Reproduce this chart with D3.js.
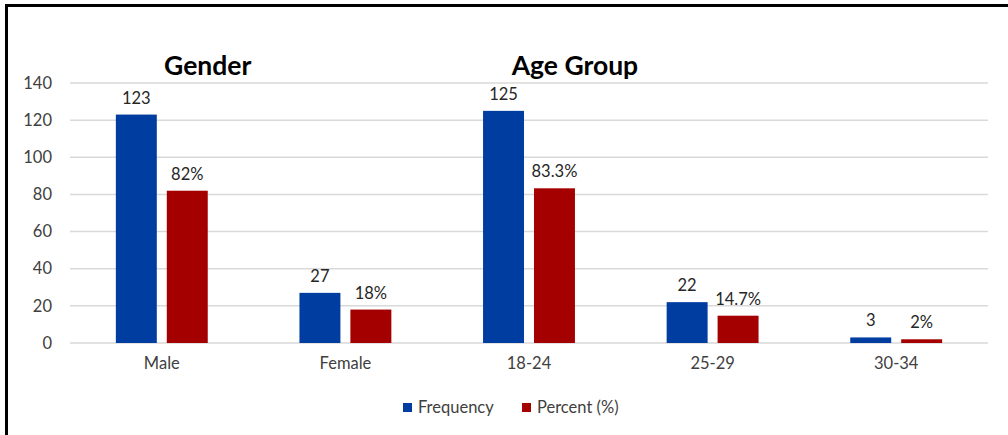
<!DOCTYPE html>
<html>
<head>
<meta charset="utf-8">
<script src="https://cdn.jsdelivr.net/npm/d3@7"></script>
<style>
  body { margin: 0; background: #fff; }
  svg text { font-family: Lato, "Liberation Sans", sans-serif; }
</style>
</head>
<body>
<div id="chart"></div>
<script>
const categories = ["Male", "Female", "18-24", "25-29", "30-34"];
const frequency = [123, 27, 125, 22, 3];
const percent = [82, 18, 83.3, 14.7, 2];
const seriesNames = ["Frequency", "Percent (%)"];
const yTicks = [0, 20, 40, 60, 80, 100, 120, 140];
const groupTitles = [
  { title: "Gender", from: "Male" },
  { title: "Age Group", from: "18-24" }
];

const width = 1008, height = 435;
const colors = ["#003da0", "#a50000"];
const fontSize = 16.5;

const svg = d3.select("#chart")
  .append("svg")
  .attr("width", width)
  .attr("height", height);

// frame
svg.append("rect")
  .attr("x", 6.5).attr("y", 5.5)
  .attr("width", width + 10).attr("height", height + 10)
  .attr("fill", "none")
  .attr("stroke", "#000")
  .attr("stroke-width", 3);

const x = d3.scaleBand()
  .domain(categories)
  .range([70, 988]);

const x1 = d3.scaleBand()
  .domain(seriesNames)
  .range([0, x.bandwidth()])
  .paddingInner(0.196)
  .paddingOuter(0.9);

const y = d3.scaleLinear()
  .domain([0, 140])
  .range([343, 83]);

// gridlines
svg.append("g")
  .selectAll("line")
  .data(yTicks)
  .enter()
  .append("line")
  .attr("x1", 70)
  .attr("x2", 988)
  .attr("y1", d => y(d))
  .attr("y2", d => y(d))
  .attr("stroke", "#d9d9d9")
  .attr("stroke-width", 1.5);

// y axis labels
const yAxis = d3.axisLeft(y).tickValues(yTicks).tickSize(0).tickPadding(0);
svg.append("g")
  .attr("transform", "translate(52,0)")
  .call(yAxis)
  .call(g => g.select(".domain").remove())
  .selectAll("text")
  .attr("font-size", fontSize)
  .attr("fill", "#404040")
  .style("font-family", "Lato, 'Liberation Sans', sans-serif");

// x axis labels
const xAxis = d3.axisBottom(x).tickSize(0).tickPadding(0);
svg.append("g")
  .attr("transform", "translate(0,357)")
  .call(xAxis)
  .call(g => g.select(".domain").remove())
  .selectAll("text")
  .attr("font-size", fontSize)
  .attr("fill", "#404040")
  .style("font-family", "Lato, 'Liberation Sans', sans-serif");

const rows = categories.map((c, i) => ({
  cat: c,
  vals: [
    { s: seriesNames[0], v: frequency[i], label: String(frequency[i]) },
    { s: seriesNames[1], v: percent[i], label: percent[i] + "%" }
  ]
}));

const groups = svg.append("g")
  .selectAll("g")
  .data(rows)
  .enter()
  .append("g")
  .attr("transform", d => `translate(${x(d.cat)},0)`);

groups.selectAll("rect")
  .data(d => d.vals)
  .enter()
  .append("rect")
  .attr("x", d => x1(d.s))
  .attr("width", x1.bandwidth())
  .attr("y", d => y(d.v))
  .attr("height", d => y(0) - y(d.v))
  .attr("fill", (d, i) => colors[i]);

groups.selectAll("text")
  .data(d => d.vals)
  .enter()
  .append("text")
  .attr("x", d => x1(d.s) + x1.bandwidth() / 2)
  .attr("y", d => y(d.v) - 11)
  .attr("text-anchor", "middle")
  .attr("font-size", fontSize)
  .attr("fill", "#262626")
  .text(d => d.label);

// group titles
svg.append("g")
  .selectAll("text")
  .data(groupTitles)
  .enter()
  .append("text")
  .attr("x", d => x(d.from) + x.bandwidth() * 0.75)
  .attr("y", 75)
  .attr("text-anchor", "middle")
  .attr("font-size", 26.5)
  .attr("font-weight", "bold")
  .attr("fill", "#000")
  .text(d => d.title);

// legend
const legend = svg.append("g")
  .selectAll("g")
  .data(seriesNames)
  .enter()
  .append("g")
  .attr("transform", (d, i) => `translate(${[403, 522][i]},403)`);

legend.append("rect")
  .attr("width", 9)
  .attr("height", 9)
  .attr("fill", (d, i) => colors[i]);

legend.append("text")
  .attr("x", 15)
  .attr("y", 10)
  .attr("font-size", fontSize)
  .attr("fill", "#404040")
  .text(d => d);
</script>
</body>
</html>
